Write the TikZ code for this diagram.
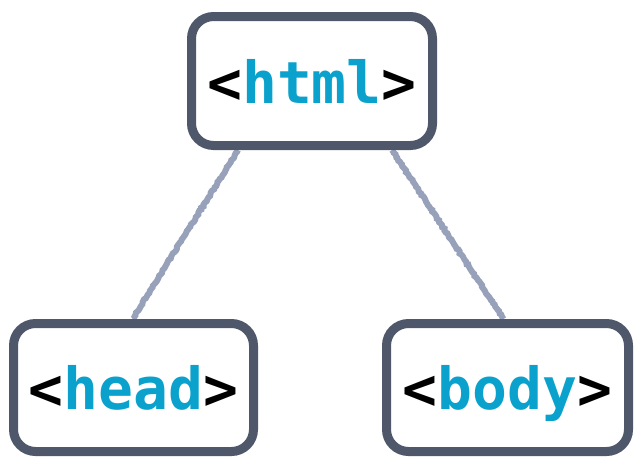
\documentclass[tikz,border=0pt]{standalone}
\usepackage{fontspec}
\setmonofont{DejaVu Sans Mono}
\usepackage{tikz}
\usetikzlibrary{positioning,backgrounds,decorations.pathmorphing}
\definecolor{boxgray}{HTML}{4E586A}
\definecolor{tagblue}{HTML}{0AA2CC}
\definecolor{linkgray}{HTML}{97A1BA}

\begin{document}
\begin{tikzpicture}[x=1pt,y=-1pt,
  tagbox/.style={draw=boxgray, line width=9pt, rounded corners=22pt, fill=white,
    minimum width=241pt, minimum height=129pt, inner sep=0pt,
    font=\fontsize{58}{60}\selectfont\ttfamily\bfseries, text height=44pt, text depth=0pt},
  link/.style={draw=linkgray, line width=6pt, decorate,
    decoration={random steps, segment length=2pt, amplitude=0.7pt}}]
\pgfmathsetseed{7}
\useasboundingbox (0,0) rectangle (643,469);
\node[tagbox] (html) at (312,81) {<\textcolor{tagblue}{html}>};
\node[tagbox, minimum width=240pt, minimum height=128pt] (head) at (133.5,387.5) {<\textcolor{tagblue}{head}>};
\node[tagbox, minimum width=242pt, minimum height=128pt] (body) at (507.5,387.5) {<\textcolor{tagblue}{body}>};
% edges behind the boxes
\begin{scope}[on background layer]
\draw[link] ([xshift=-74pt]html.south) -- ([xshift=-1pt]head.north);
\draw[link] ([xshift=80pt]html.south) -- ([xshift=-4pt]body.north);
\end{scope}
\end{tikzpicture}
\end{document}
